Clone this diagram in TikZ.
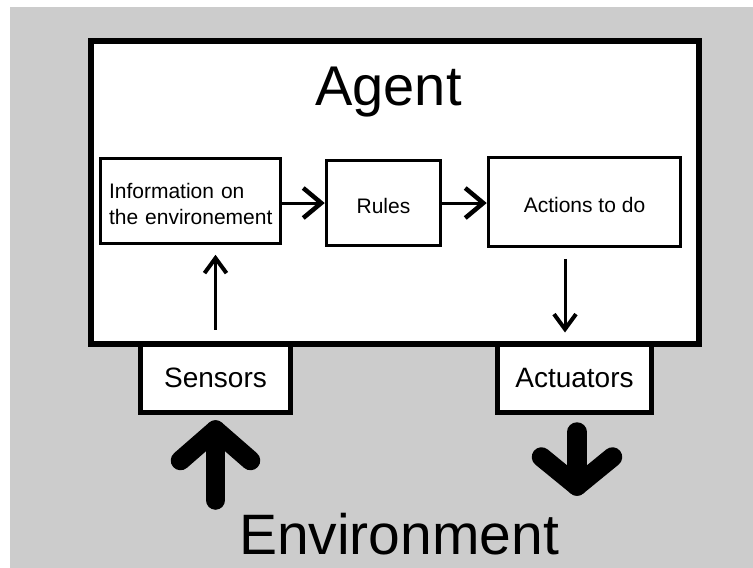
\documentclass[tikz,border=0pt]{standalone}
\usepackage{fontspec}
\setmainfont{Liberation Sans}
\usetikzlibrary{arrows.meta,calc}
\definecolor{bggray}{HTML}{CCCCCC}
\begin{document}
\begin{tikzpicture}[x=1pt,y=-1pt,
  innerbox/.style={draw, fill=white, line width=3.5pt, inner sep=0pt, text height=21pt,
    font=\fontsize{21}{26}\selectfont},
  portbox/.style={draw, fill=white, line width=5pt, inner sep=0pt, minimum height=68pt,
    font=\fontsize{28}{32}\selectfont},
  flowarrow/.style={line width=3pt, -{Straight Barb[length=18pt,width=30pt,line width=4.5pt]}},
  smallarrow/.style={line width=3pt, -{Straight Barb[length=15pt,width=22pt,line width=4pt]}},
  bigarrow/.style={line width=19.5pt, line cap=round, line join=round}
]
\useasboundingbox (0,0) rectangle (753,568);
\fill[bggray] (10,7) rectangle (753,568);

\node[portbox, minimum width=150pt] (sensors) at (215.5,378) {Sensors};
\node[portbox, minimum width=154pt] (actuators) at (574.5,378) {Actuators};

\node[draw, fill=white, line width=6pt, minimum width=608pt, minimum height=303pt, inner sep=0pt] (agent) at (395,192.5) {};
\node[font=\fontsize{56}{60}\selectfont] (agentlabel) at (388.5,92) {Agent};

\node[innerbox, minimum width=180pt, minimum height=85pt, text width=163pt, align=left] (info) at (190.5,201) {Information on\\\mbox{the environement}};
\node[innerbox, minimum width=114pt, minimum height=85pt] (rules) at (383.5,203) {Rules};
\node[innerbox, minimum width=192pt, minimum height=89pt] (actions) at (584.5,202) {Actions to do};

\draw[flowarrow] (info.east |- rules.west) -- (rules.west);
\draw[flowarrow] (rules.east) -- (rules.east -| actions.west);

\draw[smallarrow] ([yshift=12pt]sensors.north) -- ([yshift=-9.5pt]sensors.north |- info.south);
\draw[smallarrow] ($(actions.south)+(-19.5,10.5)$) -- ($(actuators.north)+(-9.5,-9)$);

\draw[bigarrow] ($(sensors.south)+(0,85.5)$) -- ($(sensors.south)+(0,15.5)$);
\draw[bigarrow] ($(sensors.south)+(-35,46)$) -- ($(sensors.south)+(0,15.5)$) -- ($(sensors.south)+(35,46)$);

\draw[bigarrow] ($(actuators.south)+(2.5,17.5)$) -- ($(actuators.south)+(2.5,71.5)$);
\draw[bigarrow] ($(actuators.south)+(-33,42.5)$) -- ($(actuators.south)+(2.5,71.5)$) -- ($(actuators.south)+(38,42.5)$);

\node[font=\fontsize{57}{60}\selectfont] (env) at (399,534) {Environment};
\end{tikzpicture}
\end{document}
